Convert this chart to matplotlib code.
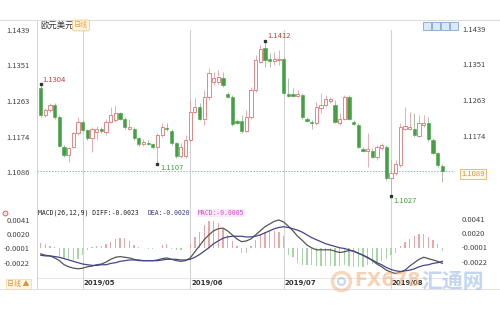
import matplotlib
matplotlib.use('Agg')
import matplotlib.pyplot as plt
from matplotlib.lines import Line2D
from matplotlib.patches import Rectangle
import matplotlib.transforms as mtransforms

plt.rcParams['font.family'] = ['Noto Sans CJK SC', 'DejaVu Sans']

# daily EUR/USD candles, 2019/04 - 2019/08
opens = [1.1294, 1.1228, 1.1240, 1.1252, 1.1224, 1.1149, 1.1128, 1.1149, 1.1182, 1.1211,
         1.1190, 1.1170, 1.1186, 1.1192, 1.1186, 1.1211, 1.1215, 1.1232, 1.1219, 1.1194,
         1.1194, 1.1170, 1.1155, 1.1159, 1.1155, 1.1147, 1.1178, 1.1196, 1.1188, 1.1157,
         1.1126, 1.1126, 1.1165, 1.1236, 1.1247, 1.1219, 1.1273, 1.1310, 1.1310, 1.1321,
         1.1280, 1.1273, 1.1213, 1.1213, 1.1189, 1.1224, 1.1290, 1.1360, 1.1395, 1.1366,
         1.1363, 1.1364, 1.1366, 1.1280, 1.1279, 1.1275, 1.1277, 1.1219, 1.1211, 1.1207,
         1.1244, 1.1252, 1.1263, 1.1252, 1.1207, 1.1219, 1.1273, 1.1211, 1.1203, 1.1143,
         1.1139, 1.1139, 1.1124, 1.1145, 1.1149, 1.1070, 1.1083, 1.1103, 1.1194, 1.1194,
         1.1194, 1.1175, 1.1203, 1.1209, 1.1165, 1.1134, 1.1102]
highs = [1.1304, 1.1244, 1.1258, 1.1257, 1.1228, 1.1153, 1.1149, 1.1186, 1.1224, 1.1215,
         1.1194, 1.1199, 1.1200, 1.1199, 1.1219, 1.1248, 1.1252, 1.1236, 1.1224, 1.1219,
         1.1199, 1.1174, 1.1167, 1.1165, 1.1159, 1.1182, 1.1207, 1.1209, 1.1192, 1.1161,
         1.1157, 1.1178, 1.1265, 1.1269, 1.1257, 1.1290, 1.1344, 1.1335, 1.1340, 1.1335,
         1.1286, 1.1277, 1.1219, 1.1228, 1.1240, 1.1298, 1.1377, 1.1402, 1.1412, 1.1381,
         1.1385, 1.1389, 1.1371, 1.1319, 1.1294, 1.1290, 1.1282, 1.1224, 1.1215, 1.1261,
         1.1282, 1.1277, 1.1273, 1.1265, 1.1232, 1.1277, 1.1277, 1.1215, 1.1207, 1.1149,
         1.1182, 1.1145, 1.1153, 1.1157, 1.1153, 1.1116, 1.1116, 1.1207, 1.1248, 1.1236,
         1.1232, 1.1228, 1.1228, 1.1224, 1.1170, 1.1136, 1.1106]
lows = [1.1224, 1.1224, 1.1236, 1.1219, 1.1149, 1.1124, 1.1112, 1.1145, 1.1178, 1.1186,
        1.1165, 1.1136, 1.1165, 1.1184, 1.1178, 1.1207, 1.1211, 1.1215, 1.1194, 1.1190,
        1.1165, 1.1151, 1.1151, 1.1152, 1.1144, 1.1107, 1.1174, 1.1189, 1.1153, 1.1122,
        1.1122, 1.1122, 1.1161, 1.1232, 1.1215, 1.1203, 1.1265, 1.1302, 1.1306, 1.1298,
        1.1269, 1.1200, 1.1205, 1.1182, 1.1185, 1.1219, 1.1286, 1.1356, 1.1348, 1.1348,
        1.1352, 1.1352, 1.1280, 1.1273, 1.1272, 1.1272, 1.1218, 1.1210, 1.1194, 1.1203,
        1.1232, 1.1248, 1.1257, 1.1207, 1.1203, 1.1215, 1.1215, 1.1202, 1.1145, 1.1136,
        1.1099, 1.1120, 1.1116, 1.1141, 1.1066, 1.1027, 1.1079, 1.1099, 1.1190, 1.1190,
        1.1174, 1.1172, 1.1199, 1.1164, 1.1131, 1.1099, 1.1062]
closes = [1.1228, 1.1240, 1.1252, 1.1224, 1.1151, 1.1128, 1.1145, 1.1182, 1.1211, 1.1190,
          1.1170, 1.1194, 1.1194, 1.1189, 1.1211, 1.1228, 1.1232, 1.1219, 1.1199, 1.1199,
          1.1170, 1.1155, 1.1161, 1.1155, 1.1147, 1.1178, 1.1199, 1.1193, 1.1157, 1.1126,
          1.1149, 1.1165, 1.1236, 1.1248, 1.1219, 1.1273, 1.1331, 1.1319, 1.1323, 1.1302,
          1.1273, 1.1205, 1.1209, 1.1189, 1.1224, 1.1290, 1.1364, 1.1393, 1.1364, 1.1363,
          1.1366, 1.1368, 1.1283, 1.1276, 1.1275, 1.1280, 1.1222, 1.1213, 1.1207, 1.1248,
          1.1252, 1.1267, 1.1267, 1.1211, 1.1219, 1.1273, 1.1219, 1.1205, 1.1149, 1.1139,
          1.1143, 1.1124, 1.1149, 1.1153, 1.1070, 1.1083, 1.1107, 1.1199, 1.1200, 1.1199,
          1.1178, 1.1209, 1.1209, 1.1167, 1.1134, 1.1103, 1.1089]

# MACD(26,12,9)
diff = [-0.0009, -0.0011, -0.0012, -0.0015, -0.0019, -0.0025, -0.0028, -0.0030, -0.0031, -0.0030,
        -0.0028, -0.0027, -0.0025, -0.0024, -0.0021, -0.0017, -0.0014, -0.0013, -0.0014, -0.0015,
        -0.0017, -0.0019, -0.0019, -0.0019, -0.0019, -0.0018, -0.0016, -0.0015, -0.0017, -0.0019,
        -0.0020, -0.0019, -0.0015, -0.0006, 0.0003, 0.0012, 0.0019, 0.0025, 0.0028, 0.0029,
        0.0025, 0.0019, 0.0013, 0.0009, 0.0010, 0.0013, 0.0019, 0.0025, 0.0031, 0.0035,
        0.0039, 0.0041, 0.0038, 0.0032, 0.0025, 0.0017, 0.0011, 0.0004, 0.0000, -0.0003,
        -0.0003, -0.0003, -0.0003, -0.0005, -0.0007, -0.0006, -0.0004, -0.0005, -0.0008, -0.0011,
        -0.0014, -0.0019, -0.0024, -0.0028, -0.0033, -0.0036, -0.0038, -0.0036, -0.0033, -0.0027,
        -0.0022, -0.0017, -0.0014, -0.0016, -0.0018, -0.0020, -0.0023]
dea = [-0.0011, -0.0012, -0.0012, -0.0013, -0.0014, -0.0016, -0.0018, -0.0020, -0.0022, -0.0024,
       -0.0025, -0.0026, -0.0026, -0.0025, -0.0025, -0.0023, -0.0022, -0.0020, -0.0019, -0.0018,
       -0.0018, -0.0018, -0.0019, -0.0019, -0.0019, -0.0019, -0.0018, -0.0017, -0.0017, -0.0017,
       -0.0018, -0.0018, -0.0017, -0.0014, -0.0010, -0.0005, 0.0000, 0.0006, 0.0010, 0.0014,
       0.0016, 0.0017, 0.0017, 0.0017, 0.0016, 0.0016, 0.0017, 0.0019, 0.0022, 0.0025,
       0.0028, 0.0030, 0.0031, 0.0030, 0.0028, 0.0026, 0.0023, 0.0019, 0.0015, 0.0012,
       0.0009, 0.0006, 0.0004, 0.0002, 0.0000, -0.0001, -0.0003, -0.0005, -0.0008, -0.0011,
       -0.0015, -0.0018, -0.0022, -0.0025, -0.0029, -0.0032, -0.0034, -0.0035, -0.0034, -0.0033,
       -0.0031, -0.0028, -0.0026, -0.0025, -0.0023, -0.0022, -0.0020]
macd_hist = [0.0007, 0.0005, 0.0003, 0.0001, -0.0012, -0.0017, -0.0018, -0.0018, -0.0017, -0.0011,
             -0.0004, 0.0001, 0.0002, 0.0003, 0.0005, 0.0009, 0.0013, 0.0015, 0.0014, 0.0010,
             0.0004, 0.0001, -0.0001, -0.0002, -0.0002, -0.0001, 0.0004, 0.0006, -0.0002, -0.0003,
             -0.0003, -0.0001, 0.0006, 0.0016, 0.0023, 0.0034, 0.0039, 0.0040, 0.0036, 0.0028,
             0.0019, 0.0010, 0.0002, -0.0007, -0.0008, 0.0003, 0.0012, 0.0020, 0.0024, 0.0025,
             0.0025, 0.0024, 0.0018, -0.0010, -0.0013, -0.0022, -0.0026, -0.0026, -0.0026, -0.0027,
             -0.0027, -0.0027, -0.0027, -0.0027, -0.0027, -0.0026, -0.0027, -0.0028, -0.0028, -0.0028,
             -0.0026, -0.0024, -0.0022, -0.0020, -0.0016, -0.0010, -0.0008, 0.0002, 0.0008, 0.0013,
             0.0017, 0.0020, 0.0021, 0.0016, 0.0011, 0.0005, -0.0005]

month_labels = ['2019/05', '2019/06', '2019/07', '2019/08']
month_idx = [9, 32, 52, 75]
price_ticks = [1.1086, 1.1174, 1.1263, 1.1351, 1.1439]
macd_ticks = [-0.0022, -0.0001, 0.0020, 0.0041]

up_col = '#e07272'
down_col = '#45a045'

W, H = 500, 312
fig = plt.figure(figsize=(5, 3.12), dpi=100)


def box(l, t, r, b):
    return [l / W, 1 - b / H, (r - l) / W, (b - t) / H]


ax = fig.add_axes(box(37, 20, 455, 205))
ax2 = fig.add_axes(box(37, 205, 455, 289), sharex=ax)

n = len(closes)
xs = list(range(n))

# candles
for i in xs:
    o, h, l, c = opens[i], highs[i], lows[i], closes[i]
    if c >= o:
        ax.vlines(i, l, h, color='#e8a0a0', lw=0.6, zorder=2)
        ax.bar(i, max(c - o, 0.00008), bottom=o, width=0.7, facecolor='white',
               edgecolor=up_col, lw=0.6, zorder=3)
    else:
        ax.vlines(i, l, h, color='#9ab89a', lw=0.6, zorder=2)
        ax.bar(i, max(o - c, 0.00008), bottom=c, width=0.7, facecolor=down_col,
               edgecolor=down_col, lw=0.4, zorder=3)

ax.set_xlim(-0.8, 88.7)
ax.set_ylim(1.1004, 1.1464)

# last price line
ax.axhline(closes[-1], color='#8fb0c8', lw=0.7, ls=(0, (1.5, 1.5)), zorder=1)

# highs / lows marks
marks = [(0, highs[0], '#d04040', (1.5, 3)),
         (48, highs[48], '#d04040', (2, 3.5)),
         (25, lows[25], '#40a040', (2, -3.5)),
         (75, lows[75], '#40a040', (1.5, -3.5))]
for i, v, col, off in marks:
    ax.plot(i, v, marker='s', ms=1.5, color='#333333', zorder=4, clip_on=False)
    ax.annotate('%.4f' % v, xy=(i, v), xytext=off, textcoords='offset points',
                fontsize=5.5, color=col, ha='left', va='center', annotation_clip=False)

for m in month_idx:
    ax.axvline(m, ymin=0, ymax=(205 - 30) / 185, color='#d4d4d4', lw=0.8, zorder=0)
    ax2.axvline(m, color='#d4d4d4', lw=0.8, zorder=0)

# MACD panel
bar_cols = ['#e8a8a8' if v > 0 else '#a8d4a8' for v in macd_hist]
ax2.bar(xs, macd_hist, width=0.28, color=bar_cols, zorder=2)
ax2.plot(xs, diff, color='#555555', lw=0.9, zorder=3)
ax2.plot(xs, dea, color='#45458a', lw=0.9, zorder=3)
ax2.set_ylim(-0.00608, 0.00631)
ax2.axhline(-0.00445, color='#e2e2e2', lw=0.6)

dtrans = mtransforms.blended_transform_factory(ax2.transData, ax2.transAxes)
for m, lab in zip(month_idx, month_labels):
    ax2.text(m + 0.2, 0.07, lab, transform=dtrans, fontsize=5, color='#333333',
             fontweight='bold', ha='left', va='center', family='DejaVu Sans')

for a, ticks in ((ax, price_ticks), (ax2, macd_ticks)):
    a.set_yticks(ticks)
    a.set_yticklabels(['%.4f' % t for t in ticks])
    a.tick_params(axis='y', left=False, right=False, labelsize=5.5,
                  labelcolor='#444444', pad=1.5)
    a.tick_params(axis='x', bottom=False, labelbottom=False)
    for s in ('top', 'right', 'bottom'):
        a.spines[s].set_visible(False)
    a.spines['left'].set_color('#cccccc')
    a.spines['left'].set_linewidth(0.6)
    rtrans = mtransforms.blended_transform_factory(a.transAxes, a.transData)
    for t in ticks:
        # the right-hand label under the price tag is hidden
        if a is ax and abs(t - closes[-1]) < 0.0008:
            continue
        a.text((462 - 37) / 418, t, '%.4f' % t, transform=rtrans, fontsize=5.5,
               color='#444444', ha='left', va='center')

# current price tag
fig.text(461 / W, 1 - 174 / H, '%.4f' % closes[-1], fontsize=5.5, color='#e09030',
         va='center', ha='left',
         bbox=dict(boxstyle='square,pad=0.15', fc='#fffaf0', ec='#f0b060', lw=0.6))

# frame lines
fig.add_artist(Line2D([0, 1], [1 - 20 / H, 1 - 20 / H], color='#dddddd', lw=0.8))
fig.add_artist(Line2D([0, 1], [1 - 289 / H, 1 - 289 / H], color='#e2e2e2', lw=0.8))

# title and labels
fig.text(40 / W, 1 - 25.5 / H, '欧元美元', fontsize=6, color='#333333', va='center')
fig.text(74 / W, 1 - 25.5 / H, '日线', fontsize=5, color='#e8a040', va='center',
         bbox=dict(boxstyle='round,pad=0.2', fc='#fff6e0', ec='#f0c880', lw=0.6))
for k in range(4):
    fig.add_artist(Rectangle(((423 + 9 * k) / W, 1 - 30 / H), 8 / W, 8 / H,
                             fc='#dde9f8', ec='#7aa8d8', lw=0.6))

fig.text(38 / W, 1 - 213 / H, 'MACD(26,12,9) DIFF:%.4f' % diff[-1], fontsize=4.7,
         color='#222222', va='center', family='DejaVu Sans Mono')
fig.text(148 / W, 1 - 213 / H, 'DEA:%.4f' % dea[-1], fontsize=4.7,
         color='#3a3a8a', va='center', family='DejaVu Sans Mono')
fig.text(198 / W, 1 - 213 / H, 'MACD:%.4f' % macd_hist[-1], fontsize=4.7,
         color='#d050d0', va='center', family='DejaVu Sans Mono',
         bbox=dict(boxstyle='square,pad=0.1', fc='#fbe8fb', ec='none'))
fig.add_artist(Line2D([5 / W], [1 - 213 / H], marker='o', ms=3.5, mfc='#fde0e0',
                      mec='#e05050', mew=0.6))
fig.text(7 / W, 1 - 284 / H, '日线 ▲', fontsize=5, color='#e09030', va='center',
         bbox=dict(boxstyle='square,pad=0.15', fc='#fff6e8', ec='#f5d5a8', lw=0.5))

# watermark
fig.add_artist(Line2D([341 / W], [1 - 281 / H], marker='o', ms=13, mfc='none',
                      mec='#f2b080', mew=2.5, alpha=0.5))
fig.add_artist(Line2D([341 / W], [1 - 281 / H], marker='o', ms=5, mfc='none',
                      mec='#8fb0e0', mew=1.5, alpha=0.5))
fig.text(354 / W, 1 - 281 / H, 'FX678', fontsize=13.5, color='#f3b585', alpha=0.6,
         va='center', ha='left', fontweight='bold', family='DejaVu Sans')
fig.text(421 / W, 1 - 281 / H, '汇通网', fontsize=15, color='#9cbbe8', alpha=0.6,
         va='center', ha='left', fontweight='bold')

fig.savefig('out.png', dpi=100, facecolor='white')
